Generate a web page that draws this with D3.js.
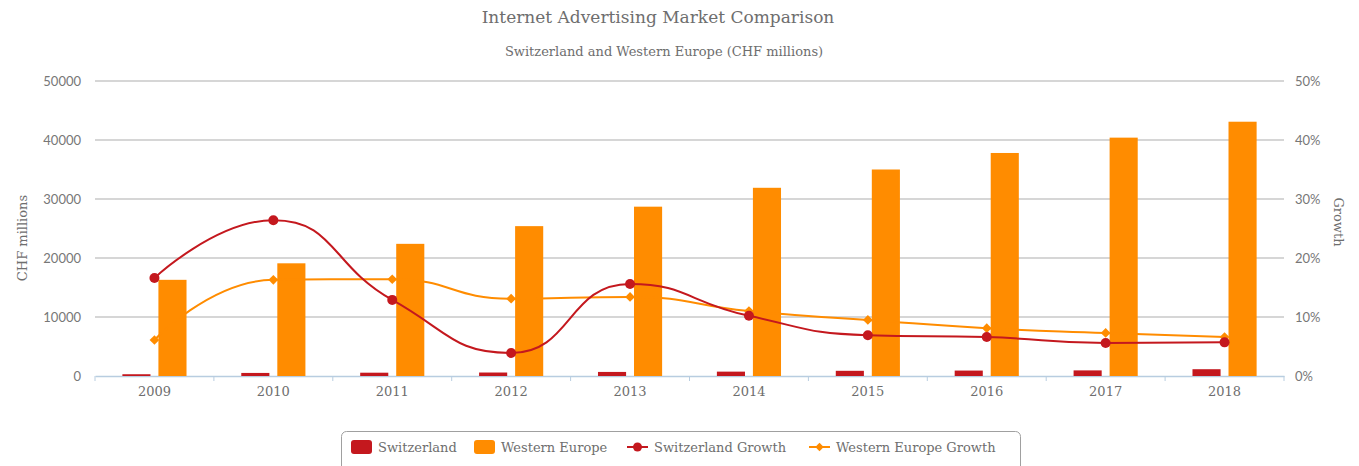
<!DOCTYPE html>
<html>
<head>
<meta charset="utf-8">
<script src="https://cdn.jsdelivr.net/npm/d3@7"></script>
<style>
  body { margin: 0; background: #fff; }
  svg { display: block; }
  .serif { font-family: "DejaVu Serif", serif; fill: #6e6e6e; }
  .sans { font-family: Lato, sans-serif; fill: #777777; }
</style>
</head>
<body>
<svg id="chart"></svg>
<script>
// Data
const years = ["2009", "2010", "2011", "2012", "2013", "2014", "2015", "2016", "2017", "2018"];
const switzerland = [300, 520, 560, 590, 690, 740, 880, 920, 950, 1150];
const westernEurope = [16300, 19100, 22400, 25400, 28700, 31900, 35000, 37800, 40400, 43100];
const switzerlandGrowth = [16.6, 26.4, 12.9, 3.9, 15.6, 10.2, 6.9, 6.6, 5.6, 5.7];
const westernEuropeGrowth = [6.1, 16.3, 16.4, 13.1, 13.4, 11.0, 9.5, 8.1, 7.3, 6.6];
const leftTicks = [0, 10000, 20000, 30000, 40000, 50000];
const rightTicks = [0, 10, 20, 30, 40, 50];

const width = 1359, height = 466;
const margin = { top: 81, right: 75, bottom: 90, left: 95 };
const red = "#c4181e", orange = "#ff8c00";

const svg = d3.select("#chart").attr("width", width).attr("height", height);

const x = d3.scaleBand().domain(years).range([margin.left, width - margin.right]);
const x1 = d3.scaleBand().domain(["ch", "we"]).range([0, x.bandwidth()]).paddingInner(0.22).paddingOuter(0.76);
const yL = d3.scaleLinear().domain([0, 50000]).range([height - margin.bottom, margin.top]);
const yR = d3.scaleLinear().domain([0, 50]).range([height - margin.bottom, margin.top]);

// Title
svg.append("text").attr("class", "serif").attr("x", 658).attr("y", 23)
  .attr("text-anchor", "middle").style("font-size", "17px").text("Internet Advertising Market Comparison");
svg.append("text").attr("class", "serif").attr("x", 664).attr("y", 56)
  .attr("text-anchor", "middle").style("font-size", "13px").text("Switzerland and Western Europe (CHF millions)");

// Grid lines
svg.append("g").selectAll("line")
  .data(leftTicks.filter(d => d > 0))
  .join("line")
  .attr("x1", margin.left).attr("x2", width - margin.right)
  .attr("y1", d => yL(d)).attr("y2", d => yL(d))
  .attr("stroke", "#c8c8c8").attr("stroke-width", 1.6);

// Left axis
const leftAxis = svg.append("g").attr("transform", `translate(${margin.left},0)`)
  .call(d3.axisLeft(yL).tickValues(leftTicks).tickSize(0).tickPadding(14).tickFormat(d3.format("d")));
leftAxis.select(".domain").remove();
leftAxis.selectAll("text").attr("class", "sans").style("font-size", "13px");

// Right axis
const rightAxis = svg.append("g").attr("transform", `translate(${width - margin.right},0)`)
  .call(d3.axisRight(yR).tickValues(rightTicks).tickSize(0).tickPadding(11).tickFormat(d => d + "%"));
rightAxis.select(".domain").remove();
rightAxis.selectAll("text").attr("class", "sans").style("font-size", "13px");

// Bottom axis
const bottomAxis = svg.append("g").attr("transform", `translate(0,${height - margin.bottom})`)
  .call(d3.axisBottom(x).tickSize(0).tickPadding(11));
bottomAxis.select(".domain").attr("stroke", "#b8cde0").attr("stroke-width", 1.5);
bottomAxis.selectAll("text").attr("class", "serif").style("font-size", "13px");
svg.append("g").selectAll("line")
  .data(years.concat(["end"]))
  .join("line")
  .attr("x1", d => d === "end" ? x.range()[1] : x(d))
  .attr("x2", d => d === "end" ? x.range()[1] : x(d))
  .attr("y1", yL(0)).attr("y2", yL(0) + 5)
  .attr("stroke", "#b8cde0").attr("stroke-width", 1);

// Axis titles
svg.append("text").attr("class", "serif")
  .attr("transform", "translate(27,238) rotate(-90)")
  .attr("text-anchor", "middle").style("font-size", "13px").text("CHF millions");
svg.append("text").attr("class", "serif")
  .attr("transform", "translate(1334,222) rotate(90)")
  .attr("text-anchor", "middle").style("font-size", "13px").text("Growth");

// Bars
const bars = svg.append("g");
bars.selectAll("rect.ch").data(years).join("rect").attr("class", "ch")
  .attr("x", d => x(d) + x1("ch")).attr("width", x1.bandwidth())
  .attr("y", (d, i) => yL(switzerland[i])).attr("height", (d, i) => yL(0) - yL(switzerland[i]))
  .attr("fill", red);
bars.selectAll("rect.we").data(years).join("rect").attr("class", "we")
  .attr("x", d => x(d) + x1("we")).attr("width", x1.bandwidth())
  .attr("y", (d, i) => yL(westernEurope[i])).attr("height", (d, i) => yL(0) - yL(westernEurope[i]))
  .attr("fill", orange);

// smooth line with control points clamped between neighbours (no overshoot)
function smoothPath(pts, smooth = 0.5) {
  const p = d3.path();
  const clamp = (v, a, b) => Math.max(Math.min(v, Math.max(a, b)), Math.min(a, b));
  let [px, py] = pts[0];
  let cpx0 = px, cpy0 = py;
  p.moveTo(px, py);
  for (let i = 1; i < pts.length; i++) {
    const [x0, y0] = pts[i];
    let cpx1 = x0, cpy1 = y0, ncx = x0, ncy = y0;
    if (i < pts.length - 1) {
      const [nx, ny] = pts[i + 1];
      const vx = nx - px, vy = ny - py;
      const lenPrev = Math.hypot(x0 - px, y0 - py), lenNext = Math.hypot(nx - x0, ny - y0);
      const ratio = lenNext / (lenNext + lenPrev);
      ncx = clamp(x0 + vx * smooth * ratio, nx, x0);
      ncy = clamp(y0 + vy * smooth * ratio, ny, y0);
      cpx1 = clamp(x0 - (ncx - x0) * lenPrev / lenNext, px, x0);
      cpy1 = clamp(y0 - (ncy - y0) * lenPrev / lenNext, py, y0);
      ncx = x0 + (x0 - cpx1) * lenNext / lenPrev;
      ncy = y0 + (y0 - cpy1) * lenNext / lenPrev;
    }
    p.bezierCurveTo(cpx0, cpy0, cpx1, cpy1, x0, y0);
    cpx0 = ncx; cpy0 = ncy;
    px = x0; py = y0;
  }
  return p.toString();
}

// Growth lines
const cx = d => x(d) + x.bandwidth() / 2;
const diamond = d3.symbol().type(d3.symbolDiamond2).size(60);

function drawGrowth(values, color, marker) {
  const pts = years.map((d, i) => [cx(d), yR(values[i])]);
  svg.append("path").attr("d", smoothPath(pts)).attr("fill", "none")
    .attr("stroke", color).attr("stroke-width", 2);
  const g = svg.append("g");
  if (marker === "circle") {
    g.selectAll("circle").data(pts).join("circle")
      .attr("cx", d => d[0]).attr("cy", d => d[1]).attr("r", 5).attr("fill", color);
  } else {
    g.selectAll("path").data(pts).join("path")
      .attr("transform", d => `translate(${d[0]},${d[1]})`).attr("d", diamond).attr("fill", color);
  }
}
drawGrowth(westernEuropeGrowth, orange, "diamond");
drawGrowth(switzerlandGrowth, red, "circle");

// Legend
const legend = svg.append("g");
legend.append("rect").attr("x", 341.5).attr("y", 431.5).attr("width", 679).attr("height", 50)
  .attr("rx", 5).attr("fill", "none").attr("stroke", "#a0a0a0").attr("stroke-width", 1);
const items = [
  { name: "Switzerland", type: "bar", color: red, x: 351 },
  { name: "Western Europe", type: "bar", color: orange, x: 474 },
  { name: "Switzerland Growth", type: "circle", color: red, x: 627 },
  { name: "Western Europe Growth", type: "diamond", color: orange, x: 809 }
];
items.forEach(it => {
  const g = legend.append("g").attr("transform", `translate(${it.x},447)`);
  if (it.type === "bar") {
    g.append("rect").attr("x", 0).attr("y", -7).attr("width", 21).attr("height", 14).attr("rx", 3).attr("fill", it.color);
  } else {
    g.append("line").attr("x1", 0).attr("x2", 21).attr("stroke", it.color).attr("stroke-width", 2);
    if (it.type === "circle") g.append("circle").attr("cx", 10.5).attr("r", 4.5).attr("fill", it.color);
    else g.append("path").attr("transform", "translate(10.5,0)").attr("d", d3.symbol().type(d3.symbolDiamond2).size(45)).attr("fill", it.color);
  }
  g.append("text").attr("class", "serif").attr("x", 27).attr("y", 5).style("font-size", "13px").text(it.name);
});
</script>
</body>
</html>
